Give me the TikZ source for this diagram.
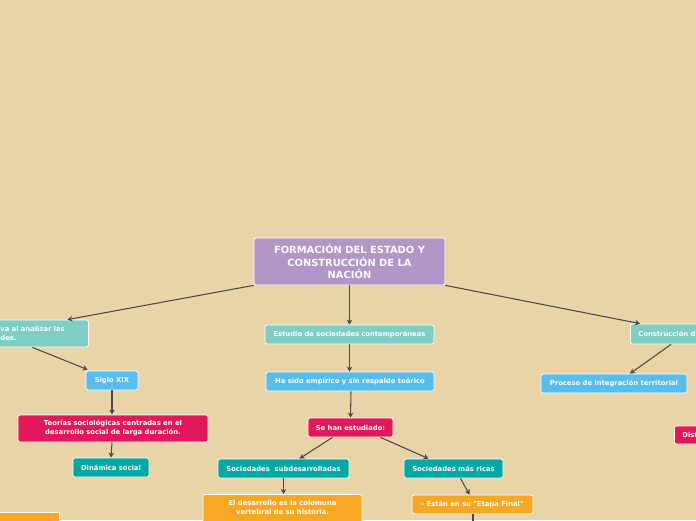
\documentclass[tikz,border=0pt]{standalone}
\usepackage{fontspec}
\newfontfamily\mapfont{DejaVu Sans}
\usetikzlibrary{arrows.meta}
\definecolor{BackClr}{RGB}{233,212,167}
\definecolor{RootClr}{RGB}{177,150,200}
\definecolor{AquaClr}{RGB}{126,206,196}
\definecolor{SkyClr}{RGB}{86,189,236}
\definecolor{RoseClr}{RGB}{226,24,92}
\definecolor{TealClr}{RGB}{0,168,165}
\definecolor{AmberClr}{RGB}{249,168,37}
\definecolor{LinkClr}{RGB}{72,72,76}

\tikzset{
  box/.style={draw=white,line width=0.8pt,rounded corners=2pt,text=white,
    font=\mapfont\bfseries\fontsize{6.8}{9}\selectfont,align=center,
    inner sep=0pt},
  link/.style={draw=LinkClr,line width=1.05pt,-{Stealth[length=5pt,width=5.5pt]}}
}

\begin{document}
\begin{tikzpicture}[x=1pt,y=-1pt]
\useasboundingbox (0,0) rectangle (696,520);
\clip (0,0) rectangle (696,520);
\fill[BackClr] (0,0) rectangle (696,520);

% central idea
\node[box,fill=RootClr,minimum width=191pt,minimum height=47pt,
  font=\mapfont\bfseries\fontsize{9.9}{12.4}\selectfont] (root) at (349.5,261.5)
  {FORMACIÓN DEL ESTADO Y\\CONSTRUCCIÓN DE LA\\NACIÓN};

% left branch
\node[box,fill=AquaClr,anchor=west,minimum height=27pt,inner xsep=12pt,
  text width=76pt,align=left] (lft) at (-12,333.5) {va al analizar las\\des.};
\node[box,fill=SkyClr,minimum width=52pt,minimum height=19pt] (siglo) at (112,380.5) {Siglo XIX};
\node[box,fill=RoseClr,minimum width=190pt,minimum height=27pt] (teorias) at (113,428.5)
  {Teorías sociológicas centradas en el\\desarrollo social de larga duración.};
\node[box,fill=TealClr,minimum width=76pt,minimum height=19pt] (dinamica) at (111,467.5) {Dinámica social};
\node[box,fill=AmberClr,anchor=north east,minimum width=80pt,minimum height=30pt] (lftnote) at (60,512) {};

% middle branch
\node[box,fill=AquaClr,minimum width=169pt,minimum height=19pt] (estudio) at (349.5,334.5)
  {Estudio de sociedades contemporáneas};
\node[box,fill=SkyClr,minimum width=168pt,minimum height=19pt] (hasido) at (350,381.5)
  {Ha sido empírico y sin respaldo teórico};
\node[box,fill=RoseClr,minimum width=85pt,minimum height=19pt] (sehan) at (350.5,427.5)
  {Se han estudiado:};
\node[box,fill=TealClr,minimum width=131pt,minimum height=19pt] (subdes) at (283.5,468.5)
  {Sociedades\ \ subdesarrolladas};
\node[box,fill=TealClr,minimum width=99pt,minimum height=19pt] (ricas) at (453.5,468.5)
  {Sociedades más ricas};
\node[box,fill=AmberClr,anchor=north,minimum width=159pt,minimum height=36pt,
  text depth=10pt] (desarrollo) at (282.5,494)
  {El desarrollo es la colomuna\\vertebral de su historia.};
\node[box,fill=AmberClr,minimum width=121pt,minimum height=19pt] (etapa) at (472.5,504.5)
  {- Están en su "Etapa Final"};
\coordinate (etapafin) at (473,526);

% right branch
\node[box,fill=AquaClr,anchor=west,minimum height=20pt,inner xsep=8pt,
  text width=100pt,align=left] (constr) at (630,334) {Construcción d};
\node[box,fill=SkyClr,minimum width=146pt,minimum height=19pt] (proceso) at (614,383.5)
  {Proceso de integración territorial};
\node[box,fill=RoseClr,anchor=west,minimum height=18pt,inner xsep=8pt,
  text width=60pt,align=left] (dist) at (674,435) {Dist};

% connectors
\draw[link] (root.south west) -- ([xshift=29pt]lft.north);
\draw[link] (root.south) -- (estudio.north);
\draw[link] (root.south east) -- ([xshift=10pt]constr.north west);
\draw[link] ([xshift=-6pt]lft.south) -- ([xshift=2pt,yshift=1pt]siglo.north west);
\draw[link] (siglo.south) -- (siglo.south |- teorias.north);
\draw[link] ([xshift=-1pt]teorias.south) -- (dinamica.north);
\draw[link] (estudio.south) -- (estudio.south |- hasido.north);
\draw[link] ([xshift=1pt]hasido.south) -- (sehan.north);
\draw[link] ([xshift=-18pt]sehan.south) -- ([xshift=16pt]subdes.north);
\draw[link] ([xshift=30pt]sehan.south) -- ([xshift=-25pt]ricas.north);
\draw[link] (subdes.south) -- (subdes.south |- desarrollo.north);
\draw[link] ([xshift=7pt]ricas.south) -- ([xshift=-3pt]etapa.north);
\draw[link] ([xshift=0.5pt]etapa.south) -- (etapafin);
\draw[link] ([xshift=41pt]constr.south west) -- ([xshift=16pt]proceso.north);

\end{tikzpicture}
\end{document}
